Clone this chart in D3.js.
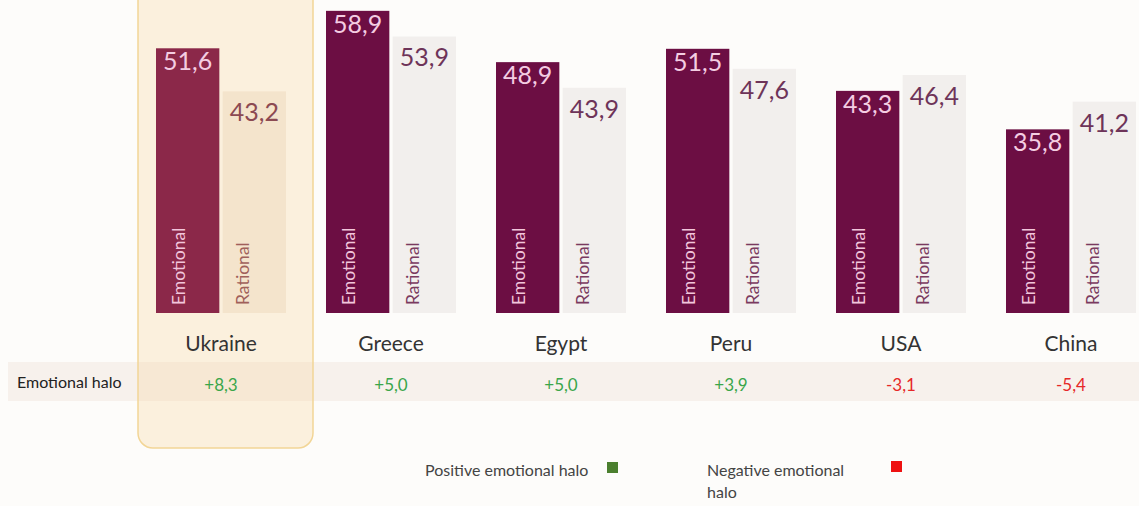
<!DOCTYPE html>
<html>
<head>
<meta charset="utf-8">
<script src="https://cdn.jsdelivr.net/npm/d3@7"></script>
<style>
  html, body { margin: 0; padding: 0; background: #fdfcfa; }
  svg { display: block; font-family: Lato, "Open Sans", sans-serif; }
</style>
</head>
<body>
<svg id="chart"></svg>
<script>
// chart data
const countries = ["Ukraine", "Greece", "Egypt", "Peru", "USA", "China"];
const emotional = [51.6, 58.9, 48.9, 51.5, 43.3, 35.8];
const rational = [43.2, 53.9, 43.9, 47.6, 46.4, 41.2];
const halo = [8.3, 5.0, 5.0, 3.9, -3.1, -5.4];
const seriesNames = ["Emotional", "Rational"];
const highlighted = "Ukraine";

const width = 1139, height = 506;
const baseY = 313;

const svg = d3.select("#chart").attr("width", width).attr("height", height);

const fmt = v => d3.format(".1f")(v).replace(".", ",");
const fmtSigned = v => d3.format("+.1f")(v).replace(".", ",").replace("−", "-");

// scales
const x0 = d3.scaleBand().domain(countries).range([156, 1176]).padding(0);
const x1 = d3.scaleBand().domain(seriesNames).range([0, 130]).paddingInner(0.05);
const y = d3.scaleLinear().domain([0, 60]).range([baseY, baseY - 60 * 5.13]);

const rows = countries.map((c, i) => ({
  country: c,
  values: [
    { key: "Emotional", value: emotional[i] },
    { key: "Rational", value: rational[i] }
  ],
  halo: halo[i]
}));

// emotional halo row band
svg.append("rect")
  .attr("x", 8).attr("y", 362)
  .attr("width", width - 8).attr("height", 39)
  .attr("fill", "#f7f1ec");

svg.append("text")
  .attr("x", 17).attr("y", 388)
  .attr("font-size", 16)
  .attr("fill", "#222")
  .text("Emotional halo");

// highlight box behind Ukraine
svg.append("rect")
  .attr("x", x0(highlighted) - 18).attr("y", -20)
  .attr("width", 175).attr("height", 468)
  .attr("rx", 15)
  .attr("fill", "rgba(250, 212, 155, 0.3)")
  .attr("stroke", "#f2d596")
  .attr("stroke-width", 1.5);

function barFill(d, country) {
  if (d.key === "Emotional") return country === highlighted ? "#8b2849" : "#6c0e43";
  return country === highlighted ? "#f4e4cc" : "#f2efed";
}

const groups = svg.selectAll("g.country")
  .data(rows)
  .join("g")
  .attr("class", "country")
  .attr("transform", d => `translate(${x0(d.country)},0)`);

groups.selectAll("rect.bar")
  .data(d => d.values.map(v => ({ ...v, country: d.country })))
  .join("rect")
  .attr("class", "bar")
  .attr("x", d => x1(d.key))
  .attr("y", d => y(d.value))
  .attr("width", x1.bandwidth())
  .attr("height", d => baseY - y(d.value))
  .attr("fill", d => barFill(d, d.country));

// value labels
groups.selectAll("text.val")
  .data(d => d.values.map(v => ({ ...v, country: d.country })))
  .join("text")
  .attr("class", "val")
  .attr("x", d => x1(d.key) + x1.bandwidth() / 2)
  .attr("y", d => y(d.value) + (d.key === "Emotional" ? 22 : 30))
  .attr("text-anchor", "middle")
  .attr("font-size", 25)
  .attr("fill", d => d.key === "Emotional" ? "#f4cde2"
    : (d.country === highlighted ? "#8c4a52" : "#6e3459"))
  .text(d => fmt(d.value));

// rotated series labels
groups.selectAll("text.series")
  .data(d => d.values.map(v => ({ ...v, country: d.country })))
  .join("text")
  .attr("class", "series")
  .attr("transform", d => {
    const bx = x1(d.key) + (d.key === "Emotional" ? 29 : 26);
    return `translate(${bx},${baseY - 8}) rotate(-90)`;
  })
  .attr("font-size", 17.5)
  .attr("fill", d => d.key === "Emotional" ? "#f2c6dc"
    : (d.country === highlighted ? "#a0605a" : "#7a3a60"))
  .text(d => d.key);

// country names
groups.append("text")
  .attr("x", 65).attr("y", 351)
  .attr("text-anchor", "middle")
  .attr("font-size", 21)
  .attr("fill", "#333")
  .text(d => d.country);

// halo values
groups.append("text")
  .attr("x", 65).attr("y", 391)
  .attr("text-anchor", "middle")
  .attr("font-size", 17)
  .attr("fill", d => d.halo >= 0 ? "#3aa64a" : "#e62828")
  .text(d => fmtSigned(d.halo));

// legend
const legend = svg.append("g").attr("font-size", 16).attr("fill", "#444");
legend.append("text").attr("x", 425).attr("y", 476).text("Positive emotional halo");
legend.append("rect").attr("x", 607).attr("y", 462).attr("width", 11).attr("height", 11).attr("fill", "#4b7f2e");
const neg = legend.append("text").attr("x", 707).attr("y", 476);
neg.append("tspan").attr("x", 707).text("Negative emotional");
neg.append("tspan").attr("x", 707).attr("dy", 22).text("halo");
legend.append("rect").attr("x", 891).attr("y", 461).attr("width", 11).attr("height", 11).attr("fill", "#ee1111");
</script>
</body>
</html>
